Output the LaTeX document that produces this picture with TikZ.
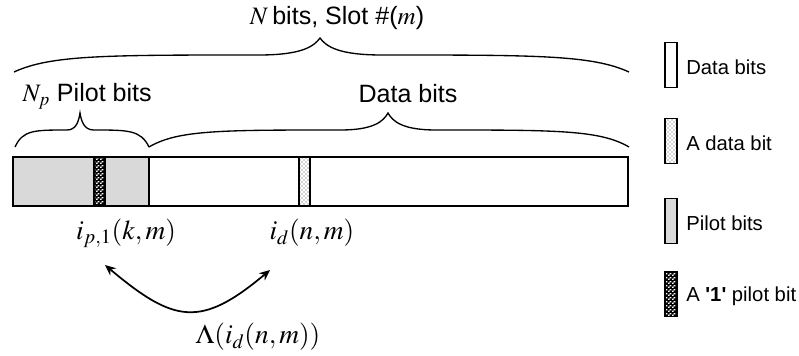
\documentclass[tikz,border=0pt]{standalone}
\usepackage{mathptmx}
\usepackage[no-math]{fontspec}
\setmainfont{Liberation Sans}
\usetikzlibrary{patterns,arrows.meta}

\definecolor{pilotgray}{HTML}{D9D9D9}

% fine white checks on black
\pgfdeclarepatternformonly{finecheck}{\pgfpointorigin}{\pgfqpoint{3pt}{3pt}}{\pgfqpoint{3pt}{3pt}}{%
  \pgfpathrectangle{\pgfpointorigin}{\pgfqpoint{1.4pt}{1.2pt}}%
  \pgfpathrectangle{\pgfqpoint{1.5pt}{1.5pt}}{\pgfqpoint{1.4pt}{1.2pt}}%
  \pgfusepath{fill}}

% curly brace: left x, right x, tip x, end y, height
\newcommand\bitbrace[5]{%
  \pgfmathsetmacro\bl{#3-#1}\pgfmathsetmacro\br{#2-#3}%
  \draw[brace] (#1,#4)
    .. controls ({#1+0.12*\bl},{#4-0.5*#5}) and ({#1+0.3*\bl},{#4-0.5*#5}) .. ({#3-0.2*\bl},{#4-0.5*#5})
    .. controls ({#3-0.06*\bl},{#4-0.5*#5}) and ({#3-0.02*\bl},{#4-0.75*#5}) .. (#3,{#4-#5})
    .. controls ({#3+0.02*\br},{#4-0.75*#5}) and ({#3+0.06*\br},{#4-0.5*#5}) .. ({#3+0.2*\br},{#4-0.5*#5})
    .. controls ({#2-0.3*\br},{#4-0.5*#5}) and ({#2-0.12*\br},{#4-0.5*#5}) .. (#2,#4);}

\begin{document}
\begin{tikzpicture}[x=0.75pt, y=-0.75pt,
    lbl/.style={font=\fontsize{18.8}{22}\selectfont, inner sep=1pt},
    mathlbl/.style={font=\fontsize{20.5}{24}\selectfont, inner sep=1pt},
    legtxt/.style={font=\fontsize{15.2}{18}\selectfont, inner sep=0pt},
    brace/.style={line width=1pt},
    frame/.style={draw, line width=1.1pt},
    blankbit/.style={fill=white},
    pilotfill/.style={fill=pilotgray},
    databit/.style={preaction={fill=white}, pattern=crosshatch dots, pattern color=black!70},
    onebit/.style={preaction={fill=black}, pattern=finecheck, pattern color=white},
    legbox/.style={frame, minimum width=9pt, minimum height=33.75pt, inner sep=0pt},
    swap/.style={{Stealth[length=8pt,width=7pt]}-{Stealth[length=8pt,width=7pt]}, line width=1.3pt}]
  \useasboundingbox (0,0) rectangle (799,356);

  % slot
  \fill[pilotfill] (13,157) rectangle (149,206);
  \draw[frame] (149,157) -- (149,206);
  \draw[frame, onebit] (94,157) rectangle (105,206);
  \draw[frame, databit] (299,157) rectangle (310,206);
  \draw[frame] (13,157) rectangle (628,206);

  % klammern
  \bitbrace{14}{629}{320}{72}{34}
  \bitbrace{15}{149}{80}{147}{34}
  \bitbrace{149}{629}{388}{147}{34}

  % beschriftung
  \node[lbl] (slotl) at (337,18) {$N$\,bits, Slot \#($m$)};
  \node[lbl, anchor=west] (pilotl) at (21,96) {$N_p$ Pilot bits};
  \node[lbl] (datal) at (408,94) {Data bits};
  \node[mathlbl] (ipilot) at (126,233) {$i_{p,1}(k,m)$};
  \node[mathlbl, anchor=west] (idata) at (268,233) {$i_d(n,m)$};
  \node[mathlbl] (lambda) at (258,337) {$\Lambda(i_d(n,m))$};

  % vertauschung
  \coordinate (swapl) at (105,265);
  \coordinate (swapr) at (270,270);
  \draw[swap] (swapl) to[out=-40, in=-140, looseness=1.4] (swapr);

  % legende
  \foreach \y/\sty/\txt in {65/blankbit/Data bits, 141/databit/A data bit,
      221/pilotfill/Pilot bits,
      294/onebit/{A \textbf{\textquotesingle1\textquotesingle} pilot bit}}{
    \node[legbox, \sty] (key\y) at (671,\y) {};
    \node[legtxt, anchor=west] (txt\y) at (686,\y+2) {\txt};
  }
\end{tikzpicture}
\end{document}
